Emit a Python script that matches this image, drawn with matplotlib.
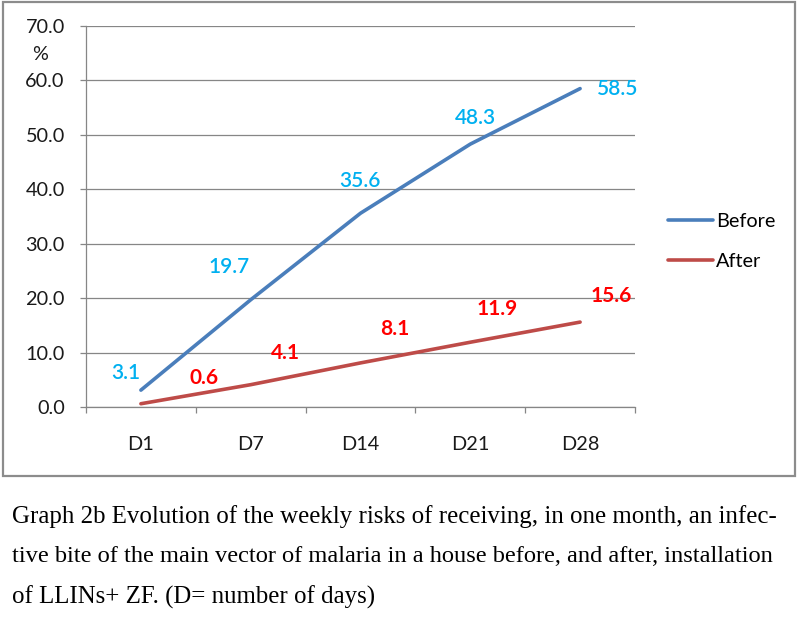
import matplotlib
matplotlib.use("Agg")
import matplotlib.pyplot as plt
from matplotlib.patches import Rectangle

categories = ["D1", "D7", "D14", "D21", "D28"]
before = [3.1, 19.7, 35.6, 48.3, 58.5]
after = [0.6, 4.1, 8.1, 11.9, 15.6]
yticks = [0, 10, 20, 30, 40, 50, 60, 70]
caption_lines = [
    "Graph 2b Evolution of the weekly risks of receiving, in one month, an infec-",
    "tive bite of the main vector of malaria in a house before, and after, installation",
    "of LLINs+ ZF. (D= number of days)",
]

plt.rcParams['font.family'] = ['Lato', 'DejaVu Sans']
W, H = 800, 632
fig = plt.figure(figsize=(8, 6.32), dpi=100)

# outer chart border
fig.add_artist(Rectangle((3 / W, 1 - 476 / H), 792 / W, 474 / H, transform=fig.transFigure,
                         fill=False, edgecolor="#8c8c8c", linewidth=1.6))

ax = fig.add_axes([86 / W, 1 - 407 / H, 549 / W, 381 / H])
x = list(range(len(categories)))
blue = "#4A7EBB"
red = "#BE4B48"
ax.plot(x, before, color=blue, linewidth=2.6, solid_capstyle="round", label="Before")
ax.plot(x, after, color=red, linewidth=2.6, solid_capstyle="round", label="After")

ax.set_xlim(-0.5, 4.5)
ax.set_ylim(0, 70)
ax.set_yticks(yticks)
ax.set_yticklabels([f"{v:.1f}" for v in yticks])
ax.set_xticks(x)
ax.set_xticklabels(categories)
ax.set_xticks([i - 0.5 for i in range(len(categories) + 1)], minor=True)
ax.grid(axis="y", color="#868686", linewidth=0.9)
ax.set_axisbelow(True)
for s in ["top", "right"]:
    ax.spines[s].set_visible(False)
for s in ["left", "bottom"]:
    ax.spines[s].set_color("#868686")
    ax.spines[s].set_linewidth(0.9)
fs = 14.3
ax.tick_params(axis="y", length=4.3, width=0.9, color="#868686", pad=11, labelsize=fs, labelcolor="#1a1a1a")
ax.tick_params(axis="x", which="major", length=0, pad=21, labelsize=fs, labelcolor="#1a1a1a")
ax.tick_params(axis="x", which="minor", length=4.3, width=0.9, color="#868686")

ax.text(-0.084, 0.924, "%", transform=ax.transAxes, fontsize=fs,
        color="#1a1a1a", ha="center", va="center")

before_off = [(-15, 17), (-22, 33), (-1, 32), (5, 26), (38, 0)]
after_off = [(63, 26), (35, 32), (34, 34), (27, 33), (31, 26)]
for i, v in enumerate(before):
    ax.annotate(f"{v:.1f}", xy=(i, v), xytext=before_off[i], textcoords="offset pixels",
                ha="center", va="center", fontsize=15, color="#00B0F0", fontweight="semibold")
for i, v in enumerate(after):
    ax.annotate(f"{v:.1f}", xy=(i, v), xytext=after_off[i], textcoords="offset pixels",
                ha="center", va="center", fontsize=15, color="#FF0000", fontweight="bold")

fig.legend(loc="center left", bbox_to_anchor=(668 / W, 1 - 241.5 / H), frameon=False,
           fontsize=fs, handlelength=2.25, handletextpad=0.17, labelspacing=1.15,
           borderpad=0, borderaxespad=0)

caption_sizes = [17.9, 17.6, 17.9]
for k, line in enumerate(caption_lines):
    fig.text(12 / W, 1 - (517 + 40 * k) / H, line, family=["Liberation Serif"], fontsize=caption_sizes[k],
             ha="left", va="center", color="black")

fig.savefig("out.png", dpi=100)
